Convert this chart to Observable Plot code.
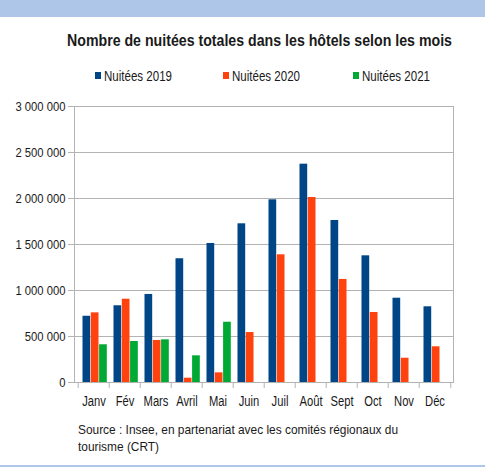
<!DOCTYPE html>
<html><head><meta charset="utf-8">
<script src="https://cdn.jsdelivr.net/npm/d3@7"></script>
<script src="https://cdn.jsdelivr.net/npm/@observablehq/plot@0.6"></script>
<style>
body{margin:0;background:#fff;}
#wrap{position:relative;width:485px;height:473px;overflow:hidden;background:#fff;font-family:"Liberation Sans",Arial,sans-serif;color:#1a1a1a;}
#band{position:absolute;left:0;top:0;width:485px;height:17px;background:#aec7e8;}
#bottomline{position:absolute;left:0;top:465px;width:485px;height:2px;background:#aec7e8;}
#title{position:absolute;left:67px;top:31px;font-size:16.5px;font-weight:bold;white-space:nowrap;transform-origin:0 50%;line-height:18px;}
.sw{position:absolute;top:72px;width:6px;height:7px;}
.legt{position:absolute;top:68px;font-size:14px;white-space:nowrap;line-height:16px;transform-origin:0 50%;}
#chart{position:absolute;left:0;top:90px;}
.src{position:absolute;left:78px;font-size:13px;line-height:16px;white-space:nowrap;transform-origin:0 50%;}
</style></head>
<body><div id="wrap">
<div id="band"></div>
<div id="title">Nombre de nuitées totales dans les hôtels selon les mois</div>
<div id="legend"></div>
<div id="chart"></div>
<div class="src" id="src1" style="top:422px">Source : Insee, en partenariat avec les comités régionaux du</div>
<div class="src" id="src2" style="top:439px">tourisme (CRT)</div>
<div id="bottomline"></div>
</div>
<script>
const months = ["Janv","Fév","Mars","Avril","Mai","Juin","Juil","Août","Sept","Oct","Nov","Déc"];
const seriesNames = ["Nuitées 2019","Nuitées 2020","Nuitées 2021"];
const colors = ["#004586","#ff420e","#00a933"];
const values2019 = [720000, 834000, 957000, 1345000, 1511000, 1725000, 1986000, 2373000, 1761000, 1377000, 916000, 823000];
const values2020 = [757000, 905000, 457000, 47000, 105000, 543000, 1388000, 2011000, 1120000, 761000, 264000, 388000];
const values2021 = [410000, 446000, 464000, 290000, 655000, null, null, null, null, null, null, null];
const yTicks = [0, 500000, 1000000, 1500000, 2000000, 2500000, 3000000];

// condense an HTML element horizontally to a target width
function squeeze(el, target) {
  const w = el.getBoundingClientRect().width;
  if (w > 0) el.style.transform = `scaleX(${target / w})`;
}

// legend
const legX = [95, 223, 353];
const legend = document.getElementById("legend");
seriesNames.forEach((s, i) => {
  const sw = document.createElement("div");
  sw.className = "sw";
  sw.style.left = legX[i] + "px";
  sw.style.background = colors[i];
  legend.appendChild(sw);
  const t = document.createElement("div");
  t.className = "legt";
  t.style.left = (legX[i] + 9) + "px";
  t.textContent = s;
  legend.appendChild(t);
  squeeze(t, 68);
});
squeeze(document.getElementById("title"), 385);
squeeze(document.getElementById("src1"), 320);
{
  const s2 = document.getElementById("src2");
  const s1 = document.getElementById("src1");
  const k = 320 / s1.scrollWidth;
  s2.style.transform = `scaleX(${k})`;
}

const fmt = d3.formatLocale({thousands: " ", grouping: [3], decimal: ","}).format(",d");
const W = 485, H = 325, mL = 74, mR = 32;
const step = (W - mL - mR) / months.length;
const mk = (vals) => months.map((m, i) => ({month: m, value: vals[i]})).filter(d => d.value != null);
const grid = "#b3b3b3";

const chart = Plot.plot({
  width: W, height: H,
  marginLeft: mL, marginRight: mR, marginTop: 16, marginBottom: 33,
  style: {fontFamily: '"Liberation Sans",Arial,sans-serif', fontSize: "13px", color: "#1a1a1a", background: "transparent"},
  x: {type: "band", domain: months, padding: 0, label: null},
  y: {domain: [0, 3000000], label: null},
  marks: [
    Plot.gridY(yTicks, {stroke: grid, strokeOpacity: 1}),
    Plot.frame({stroke: grid}),
    Plot.axisY(yTicks, {tickSize: 6, tickPadding: 3, stroke: grid, tickFormat: fmt, fontSize: 12.5, label: null, fill: "#1a1a1a", className: "ylab"}),
    Plot.axisX(months, {tickSize: 6, dx: -step / 2, stroke: grid, tickFormat: () => "", label: null}),
    Plot.axisX(["Déc"], {tickSize: 6, dx: step / 2, stroke: grid, tickFormat: () => "", label: null}),
    Plot.axisX(months, {tickSize: 0, tickPadding: 14, fontSize: 14, label: null, fill: "#1a1a1a", className: "xlab"}),
    Plot.barY(mk(values2019), {x: "month", y: "value", fill: colors[0], insetLeft: 4.5, insetRight: 18.8}),
    Plot.barY(mk(values2020), {x: "month", y: "value", fill: colors[1], insetLeft: 12.8, insetRight: 10.5}),
    Plot.barY(mk(values2021), {x: "month", y: "value", fill: colors[2], insetLeft: 21.1, insetRight: 2.2})
  ]
});
document.getElementById("chart").appendChild(chart);

// narrow the axis label glyphs like the original condensed font
function narrowTexts(selector, factor) {
  chart.querySelectorAll(selector).forEach(t => {
    const L = t.getComputedTextLength();
    if (L > 0) {
      t.setAttribute("textLength", (L * factor).toFixed(2));
      t.setAttribute("lengthAdjust", "spacingAndGlyphs");
    }
  });
}
narrowTexts("g[aria-label='y-axis tick label'] text", 0.9);
narrowTexts("g[aria-label='x-axis tick label'] text", 0.8);
</script>
</body></html>
